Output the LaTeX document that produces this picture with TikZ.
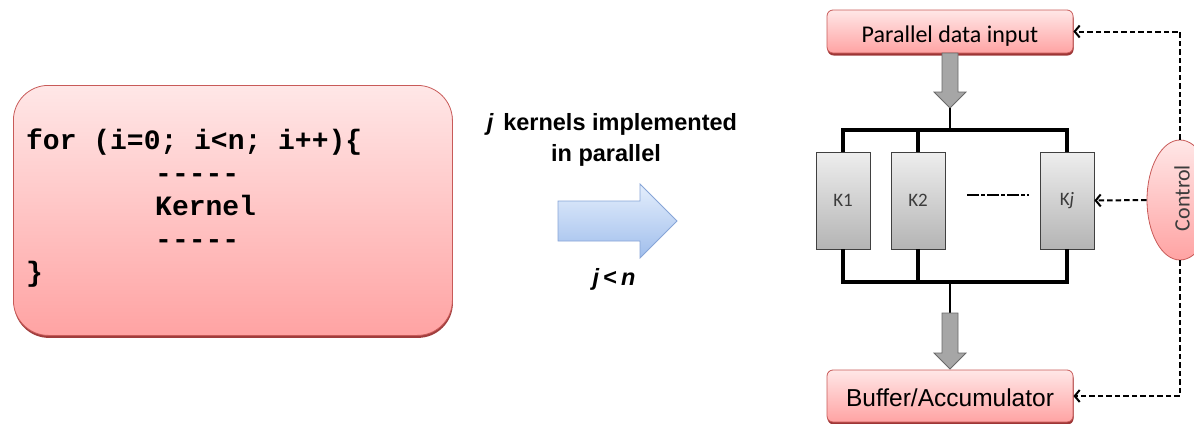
\documentclass[tikz,border=0pt]{standalone}
\usepackage{fontspec}
\setmainfont{Liberation Sans}
\newfontfamily\calib{Carlito}
\newfontfamily\cour{Liberation Mono}
\usetikzlibrary{shadows,arrows.meta,shapes.geometric}

\definecolor{pinkTop}{RGB}{255,231,231}
\definecolor{pinkBot}{RGB}{255,163,163}
\definecolor{pinkLine}{RGB}{200,90,88}
\definecolor{pinkShade}{RGB}{150,40,40}
\definecolor{greyTop}{RGB}{238,238,238}
\definecolor{greyBot}{RGB}{180,180,180}
\definecolor{blueTop}{RGB}{228,238,252}
\definecolor{blueBot}{RGB}{160,190,236}
\definecolor{blueLine}{RGB}{135,165,215}
\definecolor{flowFill}{RGB}{166,166,166}
\definecolor{flowLine}{RGB}{105,105,105}
\definecolor{labelGrey}{RGB}{60,60,60}

\begin{document}
\begin{tikzpicture}[x=1pt,y=-1pt,
  pinkbox/.style={draw=pinkLine, line width=0.8pt, top color=pinkTop, bottom color=pinkBot,
    drop shadow={shadow xshift=0.5pt, shadow yshift=-2.5pt, fill=pinkShade, opacity=0.9}},
  smallpink/.style={pinkbox, rounded corners=6pt, minimum width=246pt, inner sep=0pt,
    drop shadow={shadow xshift=0.5pt, shadow yshift=-1.5pt, fill=pinkShade, opacity=0.5}},
  codeline/.style={anchor=base west, inner sep=0pt, font=\cour\bfseries\fontsize{28}{33}\selectfont},
  kbox/.style={draw=black!75, line width=0.8pt, top color=greyTop, bottom color=greyBot,
    minimum width=54pt, minimum height=97pt, inner sep=0pt,
    font=\calib\fontsize{19}{22}\selectfont, text=labelGrey},
  bus/.style={line width=3.2pt},
  thinbus/.style={line width=2.4pt},
  flow/.style={draw=flowLine, line width=0.8pt, fill=flowFill},
  ctrl/.style={line width=2pt, dash pattern=on 5.5pt off 3pt, -{Straight Barb[length=5pt,width=12pt,line width=2pt]}},
  ctlshape/.style={ellipse, draw=pinkLine, line width=0.8pt, top color=pinkTop, bottom color=pinkBot,
    minimum width=66pt, minimum height=120pt, inner sep=0pt},
  caption/.style={inner sep=0pt, font=\bfseries\fontsize{23.5}{26}\selectfont}
]
\useasboundingbox (0,0) rectangle (1194,423);
\clip (0,0) rectangle (1194,423);

% ---- sequential loop ----
\node[pinkbox, rounded corners=35pt, minimum width=439pt, minimum height=250pt,
      anchor=north west, inner sep=0pt] (loop) at (13,85) {};
\node[codeline] (l1) at (26,149) {for (i=0; i<n; i++)\{};
\node[codeline] (l2) at (155,182) {-\kern0pt-\kern0pt-\kern0pt-\kern0pt-};
\node[codeline] (l3) at (155,215) {Kernel};
\node[codeline] (l4) at (155,248) {-\kern0pt-\kern0pt-\kern0pt-\kern0pt-};
\node[codeline] (l5) at (26,281) {\}};

% ---- transformation arrow ----
\node[caption, anchor=base] (cap1) at (612,130) {\textit{j}\hspace{0.4em}kernels implemented};
\node[caption, anchor=base] (cap2) at (606,161) {in parallel};
\draw[draw=blueLine, line width=0.8pt, top color=blueTop, bottom color=blueBot]
  (558,201) -- (640,201) -- (640,184) -- (677,221) -- (640,258) -- (640,241) -- (558,241) -- cycle;
\node[caption, anchor=base] (cond) at (614,285) {\textit{j}\,<\,\textit{n}};

% ---- parallel hardware ----
\node[smallpink, minimum height=43pt, text height=21pt, text depth=0pt,
      font=\calib\fontsize{24}{28}\selectfont] (pdi) at (950,31.5) {Parallel data input};
\node[smallpink, minimum height=52pt, text height=20pt, text depth=0pt,
      font=\fontsize{24.5}{28}\selectfont] (buf) at (950,396) {Buffer/Accumulator};

\node[kbox] (k1) at (843,200.5) {K1};
\node[kbox] (k2) at (918,200.5) {K2};
\node[kbox] (kj) at (1067,200.5) {K\textit{j}};

% input flow arrow and fan-out bus
\draw[flow] (942,53) -- (958,53) -- (958,92) -- (966,92) -- (950,108) -- (934,92) -- (942,92) -- cycle;
\coordinate (intip) at (950,108);
\coordinate (topbus) at (950,130);
\draw[line width=2.2pt] (intip) -- (topbus);
\draw[bus] (k1.north) |- (topbus) -| (kj.north);
\draw[bus] (k2.north) -- (k2.north |- topbus);
\draw[thinbus] (kj.north) -- (kj.north |- topbus);

% fan-in bus and output flow arrow
\coordinate (botbus) at (950,282);
\coordinate (outtail) at (950,313);
\draw[bus] (k1.south) |- (botbus) -| (kj.south);
\draw[bus] (k2.south) -- (k2.south |- botbus);
\draw[thinbus] (kj.south) -- (kj.south |- botbus);
\draw[line width=2.2pt] (botbus) -- (outtail);
\draw[flow] (942,313) -- (958,313) -- (958,353) -- (966,353) -- (950,369) -- (934,353) -- (942,353) -- cycle;

% omitted kernels
\draw[line width=2pt, dash pattern=on 12pt off 2pt on 4pt off 2pt] (967,195) -- (1029,195);

% ---- control unit ----
\node[ctlshape] (ctl) at (1180,200) {};
\draw[ctrl] (ctl.north) |- (pdi.east);
\draw[ctrl] (ctl.south) |- (buf.east);
\draw[ctrl] (ctl.west) -- (kj.east);
\node[rotate=90, inner sep=0pt, text=labelGrey, font=\calib\fontsize{22}{26}\selectfont]
      (ctltext) at (1182,198) {Control};
\end{tikzpicture}
\end{document}
